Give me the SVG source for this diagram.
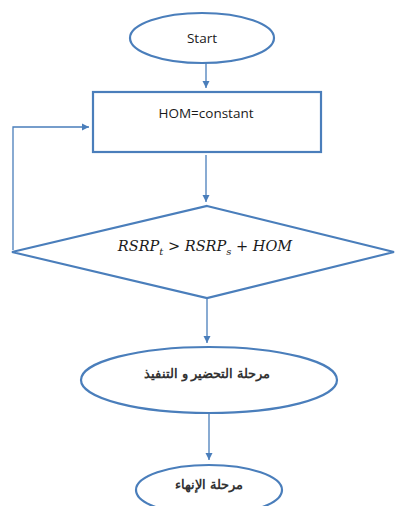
<svg xmlns="http://www.w3.org/2000/svg" width="396" height="506" viewBox="0 0 396 506">
<defs>
<marker id="ah" markerWidth="8" markerHeight="8" refX="7" refY="4" orient="auto" markerUnits="userSpaceOnUse">
<path d="M0,0.5 L7,4 L0,7.5 Z" fill="#4a7ebb"/>
</marker>
<style>
.shape{fill:#fff;stroke:#4a7ebb;stroke-width:2.2}
.conn{fill:none;stroke:#4a7ebb;stroke-width:1.3;marker-end:url(#ah)}
.lbl{font-family:"Open Sans","Liberation Sans",sans-serif;font-size:13.5px;fill:#1a1a1a;text-anchor:middle}
.ar{font-family:"Liberation Sans","Noto Sans",sans-serif;font-size:12.5px;font-weight:bold;fill:#333;text-anchor:middle}
.math{font-family:"DejaVu Serif","Liberation Serif",serif;font-style:italic;font-size:14.5px;fill:#1a1a1a}
</style>
</defs>
<rect width="396" height="506" fill="#fff"/>
<g id="connectors">
<line class="conn" x1="206" y1="63" x2="206" y2="88"/>
<line class="conn" x1="206" y1="155" x2="206" y2="202"/>
<polyline class="conn" points="13,250 13,127 89,127"/>
<line class="conn" x1="207" y1="299" x2="207" y2="343"/>
<line class="conn" x1="209" y1="414" x2="209" y2="460"/>
</g>
<g id="start">
<ellipse class="shape" cx="202" cy="38" rx="72" ry="25"/>
<text class="lbl" x="202" y="43">Start</text>
</g>
<g id="hom">
<rect class="shape" x="93" y="92" width="228" height="60"/>
<text class="lbl" x="206" y="118">HOM=constant</text>
</g>
<g id="decision">
<polygon class="shape" points="207,206 394,252 207,298 12,252"/>
<text class="math" x="205" y="251" text-anchor="middle">RSRP<tspan font-size="10" dy="4">t</tspan><tspan dy="-4"> &gt; RSRP</tspan><tspan font-size="10" dy="4">s</tspan><tspan dy="-4"> + HOM</tspan></text>
</g>
<g id="prep">
<ellipse class="shape" cx="209" cy="380" rx="128" ry="33"/>
<text class="ar" x="207" y="378" direction="rtl">مرحلة  التحضير و التنفيذ</text>
</g>
<g id="end">
<ellipse class="shape" cx="209" cy="490" rx="73" ry="25"/>
<text class="ar" x="209" y="489" direction="rtl">مرحلة الإنهاء</text>
</g>
</svg>
